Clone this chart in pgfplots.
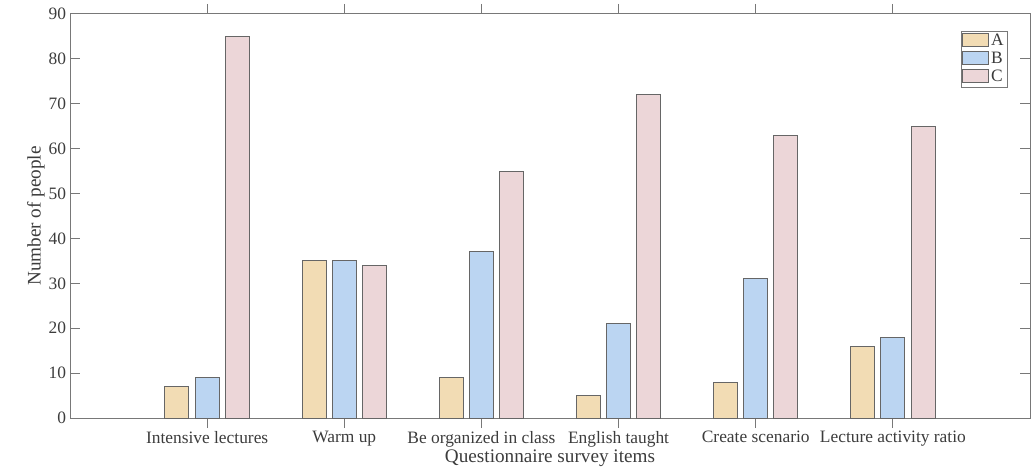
\documentclass[border=0pt]{standalone}
\usepackage{pgfplots}
\pgfplotsset{compat=1.18}
\usepackage{fontspec}
\setmainfont{Liberation Serif}
\definecolor{cA}{RGB}{242,220,180}
\definecolor{cB}{RGB}{187,213,242}
\definecolor{cC}{RGB}{236,214,216}
\definecolor{ax}{RGB}{120,120,120}
\definecolor{tx}{RGB}{60,60,60}
\begin{document}
\fontsize{17.4}{20}\selectfont
\begin{tikzpicture}
\begin{axis}[
  scale only axis,
  width=960pt, height=404pt,
  xmin=0, xmax=7, ymin=0, ymax=90,
  xtick={1,2,3,4,5,6},
  xticklabels={Intensive lectures,Warm up,Be organized in class,English taught,Create scenario,Lecture activity ratio},
  ytick={0,10,...,90},
  tick align=inside,
  major tick length=10pt,
  xtick pos=both, ytick pos=both,
  axis line style={ax, line width=1pt},
  tick style={ax, line width=1pt},
  every tick label/.style={font=\fontsize{17.4}{20}\selectfont, text=tx},
  label style={font=\fontsize{19.2}{22}\selectfont, text=tx},
  /pgf/number format/assume math mode=true,
  xlabel={Questionnaire survey items},
  ylabel={Number of people},
  xlabel style={yshift=9pt},
  ylabel style={yshift=-8pt},
  xticklabel style={yshift=3pt},
  yticklabel style={xshift=2pt},
  ybar,
  bar width=0.175,
  legend style={at={(0.976,0.958)}, anchor=north east, draw=ax, fill=white,
    font=\fontsize{17.4}{17}\selectfont, text=tx, inner sep=1pt, row sep=0pt, cells={anchor=west}},
  legend image code/.code={\draw[#1] (0pt,-5pt) rectangle (26pt,8pt);},
]
\addplot[fill=cA, draw=black!60, line width=1pt, bar shift=-0.22] coordinates {(1,7) (2,35) (3,9) (4,5) (5,8) (6,16)};
\addplot[fill=cB, draw=black!60, line width=1pt, bar shift=0] coordinates {(1,9) (2,35) (3,37) (4,21) (5,31) (6,18)};
\addplot[fill=cC, draw=black!60, line width=1pt, bar shift=0.22] coordinates {(1,85) (2,34) (3,55) (4,72) (5,63) (6,65)};
\legend{A,B,C}
\end{axis}
\pgfresetboundingbox
\path (current axis.south west) ++(-70pt,-50pt) coordinate (bl);
\path (current axis.north east) ++(3pt,14pt) coordinate (tr);
\useasboundingbox (bl) rectangle (tr);
\end{tikzpicture}
\end{document}
